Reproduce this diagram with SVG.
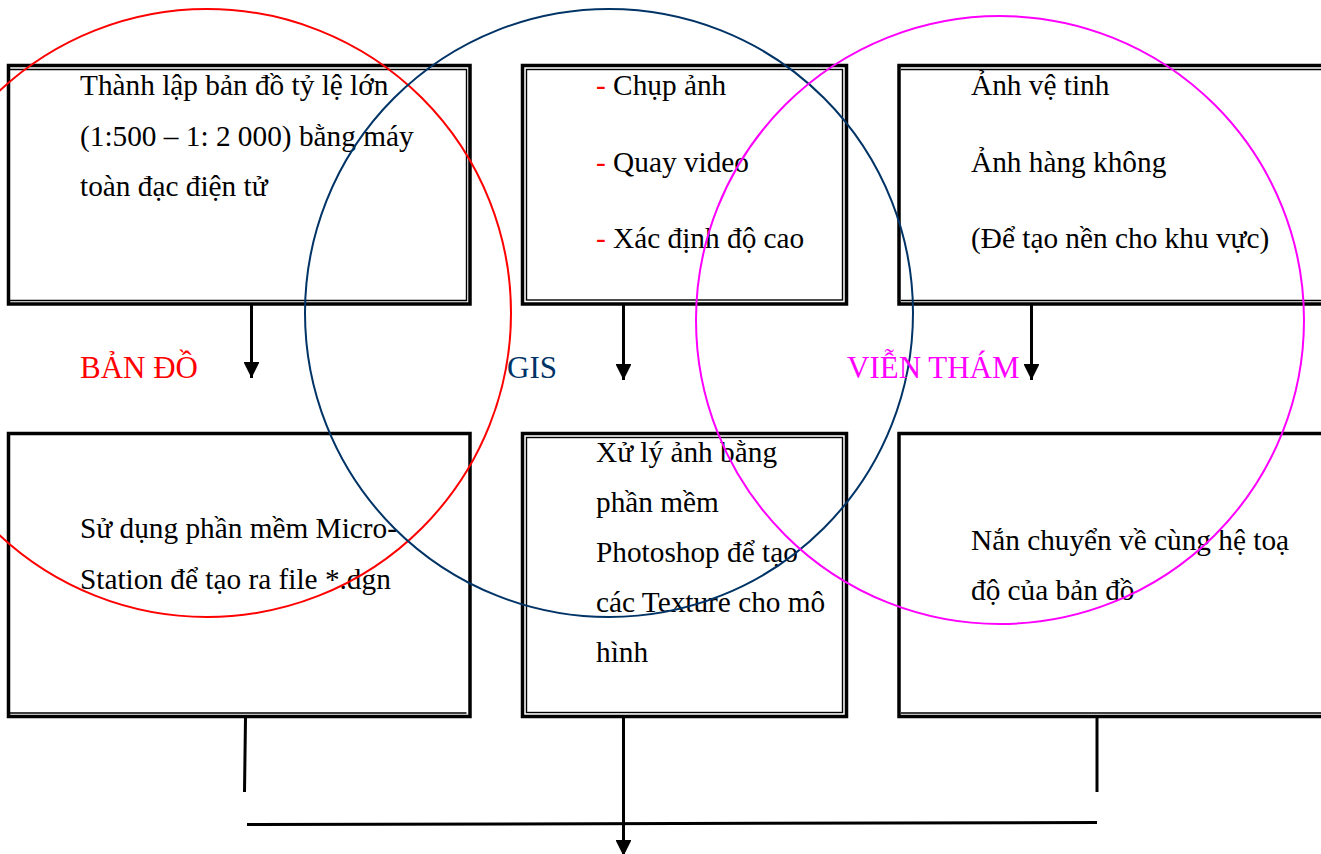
<svg xmlns="http://www.w3.org/2000/svg" width="1321" height="854" viewBox="0 0 1321 854">
<defs>
<style>
.box{fill:#fff;stroke:#000;stroke-width:3.5}
.inner{fill:none;stroke:#000;stroke-width:1.4}
.t{font-family:"Liberation Serif","Times New Roman",serif;font-size:29.3px;fill:#000}
.lbl{font-family:"Liberation Serif","Times New Roman",serif;font-size:31px}
.dash{fill:#ff0000}
.ln{stroke:#000;stroke-width:3;fill:none}
.circ{fill:none;stroke-width:2}
</style>
<marker id="ah" viewBox="0 0 10 10" refX="10" refY="5" markerWidth="5.3" markerHeight="5.3" markerUnits="strokeWidth" orient="auto">
<path d="M0,0 L10,5 L0,10 z" fill="#000"/>
</marker>
</defs>
<rect width="1321" height="854" fill="#fff"/>

<g id="box-banDo-top">
<rect class="box" x="8.5" y="65.5" width="461.5" height="238.5"/>
<path class="inner" d="M10,69.5 H466.5 V300.5 H10"/>
<text class="t" x="80" y="95">Thành lập bản đồ tỷ lệ lớn</text>
<text class="t" x="80" y="146">(1:500 – 1: 2 000) bằng máy</text>
<text class="t" x="80" y="196">toàn đạc điện tử</text>
</g>

<g id="box-gis-top">
<rect class="box" x="522.5" y="65.5" width="324" height="238.5"/>
<rect class="inner" x="526.5" y="69.5" width="316" height="230.5"/>
<text class="t" x="596" y="95"><tspan class="dash">-</tspan> Chụp ảnh</text>
<text class="t" x="596" y="172"><tspan class="dash">-</tspan> Quay video</text>
<text class="t" x="596" y="248"><tspan class="dash">-</tspan> Xác định độ cao</text>
</g>

<g id="box-vienTham-top">
<rect class="box" x="899" y="65.5" width="430" height="238.5"/>
<path class="inner" d="M1329,69.5 H901 M901,300.5 H1329"/>
<text class="t" x="971" y="95">Ảnh vệ tinh</text>
<text class="t" x="971" y="172">Ảnh hàng không</text>
<text class="t" x="971" y="248">(Để tạo nền cho khu vực)</text>
</g>

<g id="box-banDo-bottom">
<rect class="box" x="8.5" y="433.5" width="461.5" height="283"/>
<path class="inner" d="M10,713 H466.5"/>
<text class="t" x="80" y="538">Sử dụng phần mềm Micro-</text>
<text class="t" x="80" y="589">Station để tạo ra file *.dgn</text>
</g>

<g id="box-gis-bottom">
<rect class="box" x="522.5" y="433.5" width="324" height="283"/>
<rect class="inner" x="526.5" y="437.5" width="316" height="275"/>
<text class="t" x="596" y="462">Xử lý ảnh bằng</text>
<text class="t" x="596" y="512">phần mềm</text>
<text class="t" x="596" y="562">Photoshop để tạo</text>
<text class="t" x="596" y="612">các Texture cho mô</text>
<text class="t" x="596" y="662">hình</text>
</g>

<g id="box-vienTham-bottom">
<rect class="box" x="899" y="433.5" width="430" height="283"/>
<path class="inner" d="M901,713 H1329"/>
<text class="t" x="971" y="550">Nắn chuyển về cùng hệ toạ</text>
<text class="t" x="971" y="600">độ của bản đồ</text>
</g>

<g id="connectors">
<line class="ln" x1="251.5" y1="305" x2="251.5" y2="378" marker-end="url(#ah)"/>
<line class="ln" x1="623.5" y1="305" x2="623.5" y2="380" marker-end="url(#ah)"/>
<line class="ln" x1="1031.5" y1="305" x2="1031.5" y2="380" marker-end="url(#ah)"/>
<line class="ln" x1="245.5" y1="718" x2="244.5" y2="792"/>
<line class="ln" x1="1097" y1="718" x2="1097" y2="792"/>
<line class="ln" x1="247" y1="824.5" x2="1097" y2="822.5" stroke-width="4"/>
<line class="ln" x1="623.5" y1="718" x2="623.5" y2="856" marker-end="url(#ah)"/>
</g>

<g id="circles">
<circle class="circ" cx="207" cy="313" r="304" stroke="#ff0000"/>
<circle class="circ" cx="609" cy="313" r="304" stroke="#003366"/>
<circle class="circ" cx="1000" cy="320" r="304" stroke="#ff00ff"/>
</g>

<g id="labels">
<text class="lbl" x="80" y="378" fill="#ff0000">BẢN ĐỒ</text>
<text class="lbl" x="507" y="378" fill="#003366">GIS</text>
<text class="lbl" x="847" y="378" fill="#ff00ff">VIỄN THÁM</text>
</g>
</svg>
